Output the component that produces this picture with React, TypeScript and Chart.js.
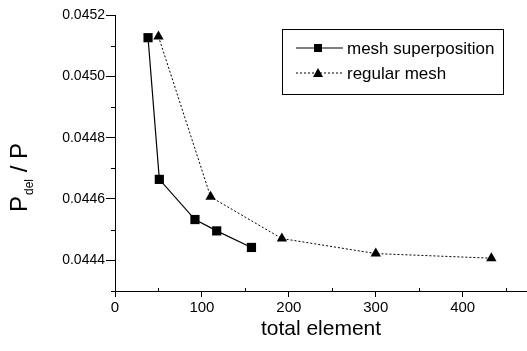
import React, { useEffect, useRef } from "react";
import { Chart, registerables } from "chart.js";

Chart.register(...registerables);

const meshX = [38, 51, 92, 117, 157];
const meshY = [0.045126, 0.044664, 0.044533, 0.044496, 0.044442];
const regX = [50, 110, 192, 300, 433];
const regY = [0.04513, 0.044607, 0.044471, 0.044422, 0.044407];
const xTicks = [0, 100, 200, 300, 400];
const xMinor = [50, 150, 250, 350, 450];
const yTicks = [0.0444, 0.0446, 0.0448, 0.045, 0.0452];
const yMinor = [0.0443, 0.0445, 0.0447, 0.0449, 0.0451];
const seriesNames = ["mesh superposition", "regular mesh"];

const FONT = "'Liberation Sans', Arial, sans-serif";

const decorPlugin = {
  id: "decor",
  afterDraw(chart: any) {
    const ctx = chart.ctx;
    const xs = chart.scales.x;
    const ys = chart.scales.y;
    const area = chart.chartArea;
    ctx.save();
    ctx.strokeStyle = "#000";
    ctx.lineWidth = 1;
    // minor ticks
    xMinor.forEach((v) => {
      const px = Math.round(xs.getPixelForValue(v)) + 0.5;
      ctx.beginPath();
      ctx.moveTo(px, area.bottom);
      ctx.lineTo(px, area.bottom - 3);
      ctx.stroke();
    });
    yMinor.forEach((v) => {
      const py = Math.round(ys.getPixelForValue(v)) + 0.5;
      ctx.beginPath();
      ctx.moveTo(area.left, py);
      ctx.lineTo(area.left - 4, py);
      ctx.stroke();
    });

    // x title
    ctx.fillStyle = "#000";
    ctx.font = `21px ${FONT}`;
    ctx.textAlign = "center";
    ctx.textBaseline = "middle";
    ctx.fillText("total element", (area.left + area.right) / 2, 329);

    // y title (rotated) with subscript
    ctx.save();
    ctx.translate(27, 212);
    ctx.rotate(-Math.PI / 2);
    ctx.textAlign = "left";
    ctx.textBaseline = "alphabetic";
    ctx.font = `24px ${FONT}`;
    ctx.fillText("P", 0, 0);
    let off = ctx.measureText("P").width + 1;
    ctx.font = `12px ${FONT}`;
    ctx.fillText("del", off, 6);
    off += ctx.measureText("del").width;
    ctx.font = `24px ${FONT}`;
    ctx.fillText(" / P", off, 0);
    ctx.restore();

    // legend
    const bx = 282, by = 29, bw = 221, bh = 65;
    ctx.lineWidth = 1;
    ctx.strokeRect(bx + 0.5, by + 0.5, bw, bh);
    const rows = [48, 73];
    ctx.font = `17px ${FONT}`;
    ctx.textAlign = "left";
    ctx.textBaseline = "middle";
    // row 1
    ctx.lineWidth = 1.2;
    ctx.setLineDash([]);
    ctx.beginPath();
    ctx.moveTo(296, rows[0]);
    ctx.lineTo(343, rows[0]);
    ctx.stroke();
    ctx.fillRect(318 - 4, rows[0] - 4, 8, 8);
    ctx.fillText(seriesNames[0], 347, rows[0] + 1);
    // row 2
    ctx.lineWidth = 1;
    ctx.setLineDash([2, 2]);
    ctx.beginPath();
    ctx.moveTo(296, rows[1]);
    ctx.lineTo(343, rows[1]);
    ctx.stroke();
    ctx.setLineDash([]);
    ctx.beginPath();
    ctx.moveTo(318, rows[1] - 5);
    ctx.lineTo(323, rows[1] + 4);
    ctx.lineTo(313, rows[1] + 4);
    ctx.closePath();
    ctx.fill();
    ctx.fillText(seriesNames[1], 347, rows[1] + 1);
    ctx.restore();
  },
};

export default function App() {
  const ref = useRef<HTMLCanvasElement | null>(null);
  useEffect(() => {
    document.body.style.margin = "0";
    const canvas = ref.current!;
    const chart = new Chart(canvas, {
      type: "line",
      data: {
        datasets: [
          {
            label: seriesNames[0],
            data: meshX.map((x, i) => ({ x, y: meshY[i] })),
            borderColor: "#000",
            backgroundColor: "#000",
            borderWidth: 1.2,
            pointStyle: "rect",
            pointRadius: 6.5,
            pointBorderWidth: 0,
            tension: 0,
            clip: false as any,
          },
          {
            label: seriesNames[1],
            data: regX.map((x, i) => ({ x, y: regY[i] })),
            borderColor: "#000",
            backgroundColor: "#000",
            borderWidth: 1,
            borderDash: [2, 2],
            pointStyle: "triangle",
            pointRadius: 6,
            pointBorderWidth: 0,
            tension: 0,
            clip: false as any,
          },
        ],
      },
      options: {
        animation: false,
        responsive: false,
        devicePixelRatio: 1,
        layout: { autoPadding: false, padding: { top: 15, left: 0, right: 0, bottom: 0 } },
        plugins: { legend: { display: false }, tooltip: { enabled: false } },
        scales: {
          x: {
            type: "linear",
            min: 0,
            max: 474,
            afterFit: (s: any) => {
              s.height = 60;
              s.paddingLeft = 0;
              s.paddingRight = 0;
            },
            afterBuildTicks: (s: any) => {
              s.ticks = xTicks.map((v) => ({ value: v }));
            },
            ticks: {
              color: "#000",
              font: { family: FONT, size: 15 },
              padding: 2,
              maxRotation: 0,
              callback: (v: any) => String(v),
            },
            grid: { drawOnChartArea: false, tickLength: 6, color: "#000" },
            border: { color: "#000", width: 1 },
          },
          y: {
            type: "linear",
            min: 0.0443,
            max: 0.0452,
            afterFit: (s: any) => {
              s.width = 115;
              s.paddingTop = 0;
              s.paddingBottom = 0;
            },
            afterBuildTicks: (s: any) => {
              s.ticks = yTicks.map((v) => ({ value: v }));
            },
            ticks: {
              color: "#000",
              font: { family: FONT, size: 14 },
              padding: 1,
              callback: (v: any) => Number(v).toFixed(4),
            },
            grid: { drawOnChartArea: false, tickLength: 9, color: "#000" },
            border: { color: "#000", width: 1 },
          },
        },
      },
      plugins: [decorPlugin],
    });
    return () => chart.destroy();
  }, []);
  return (
    <canvas
      ref={ref}
      width={527}
      height={351}
      style={{ width: 527, height: 351, display: "block" }}
    />
  );
}
